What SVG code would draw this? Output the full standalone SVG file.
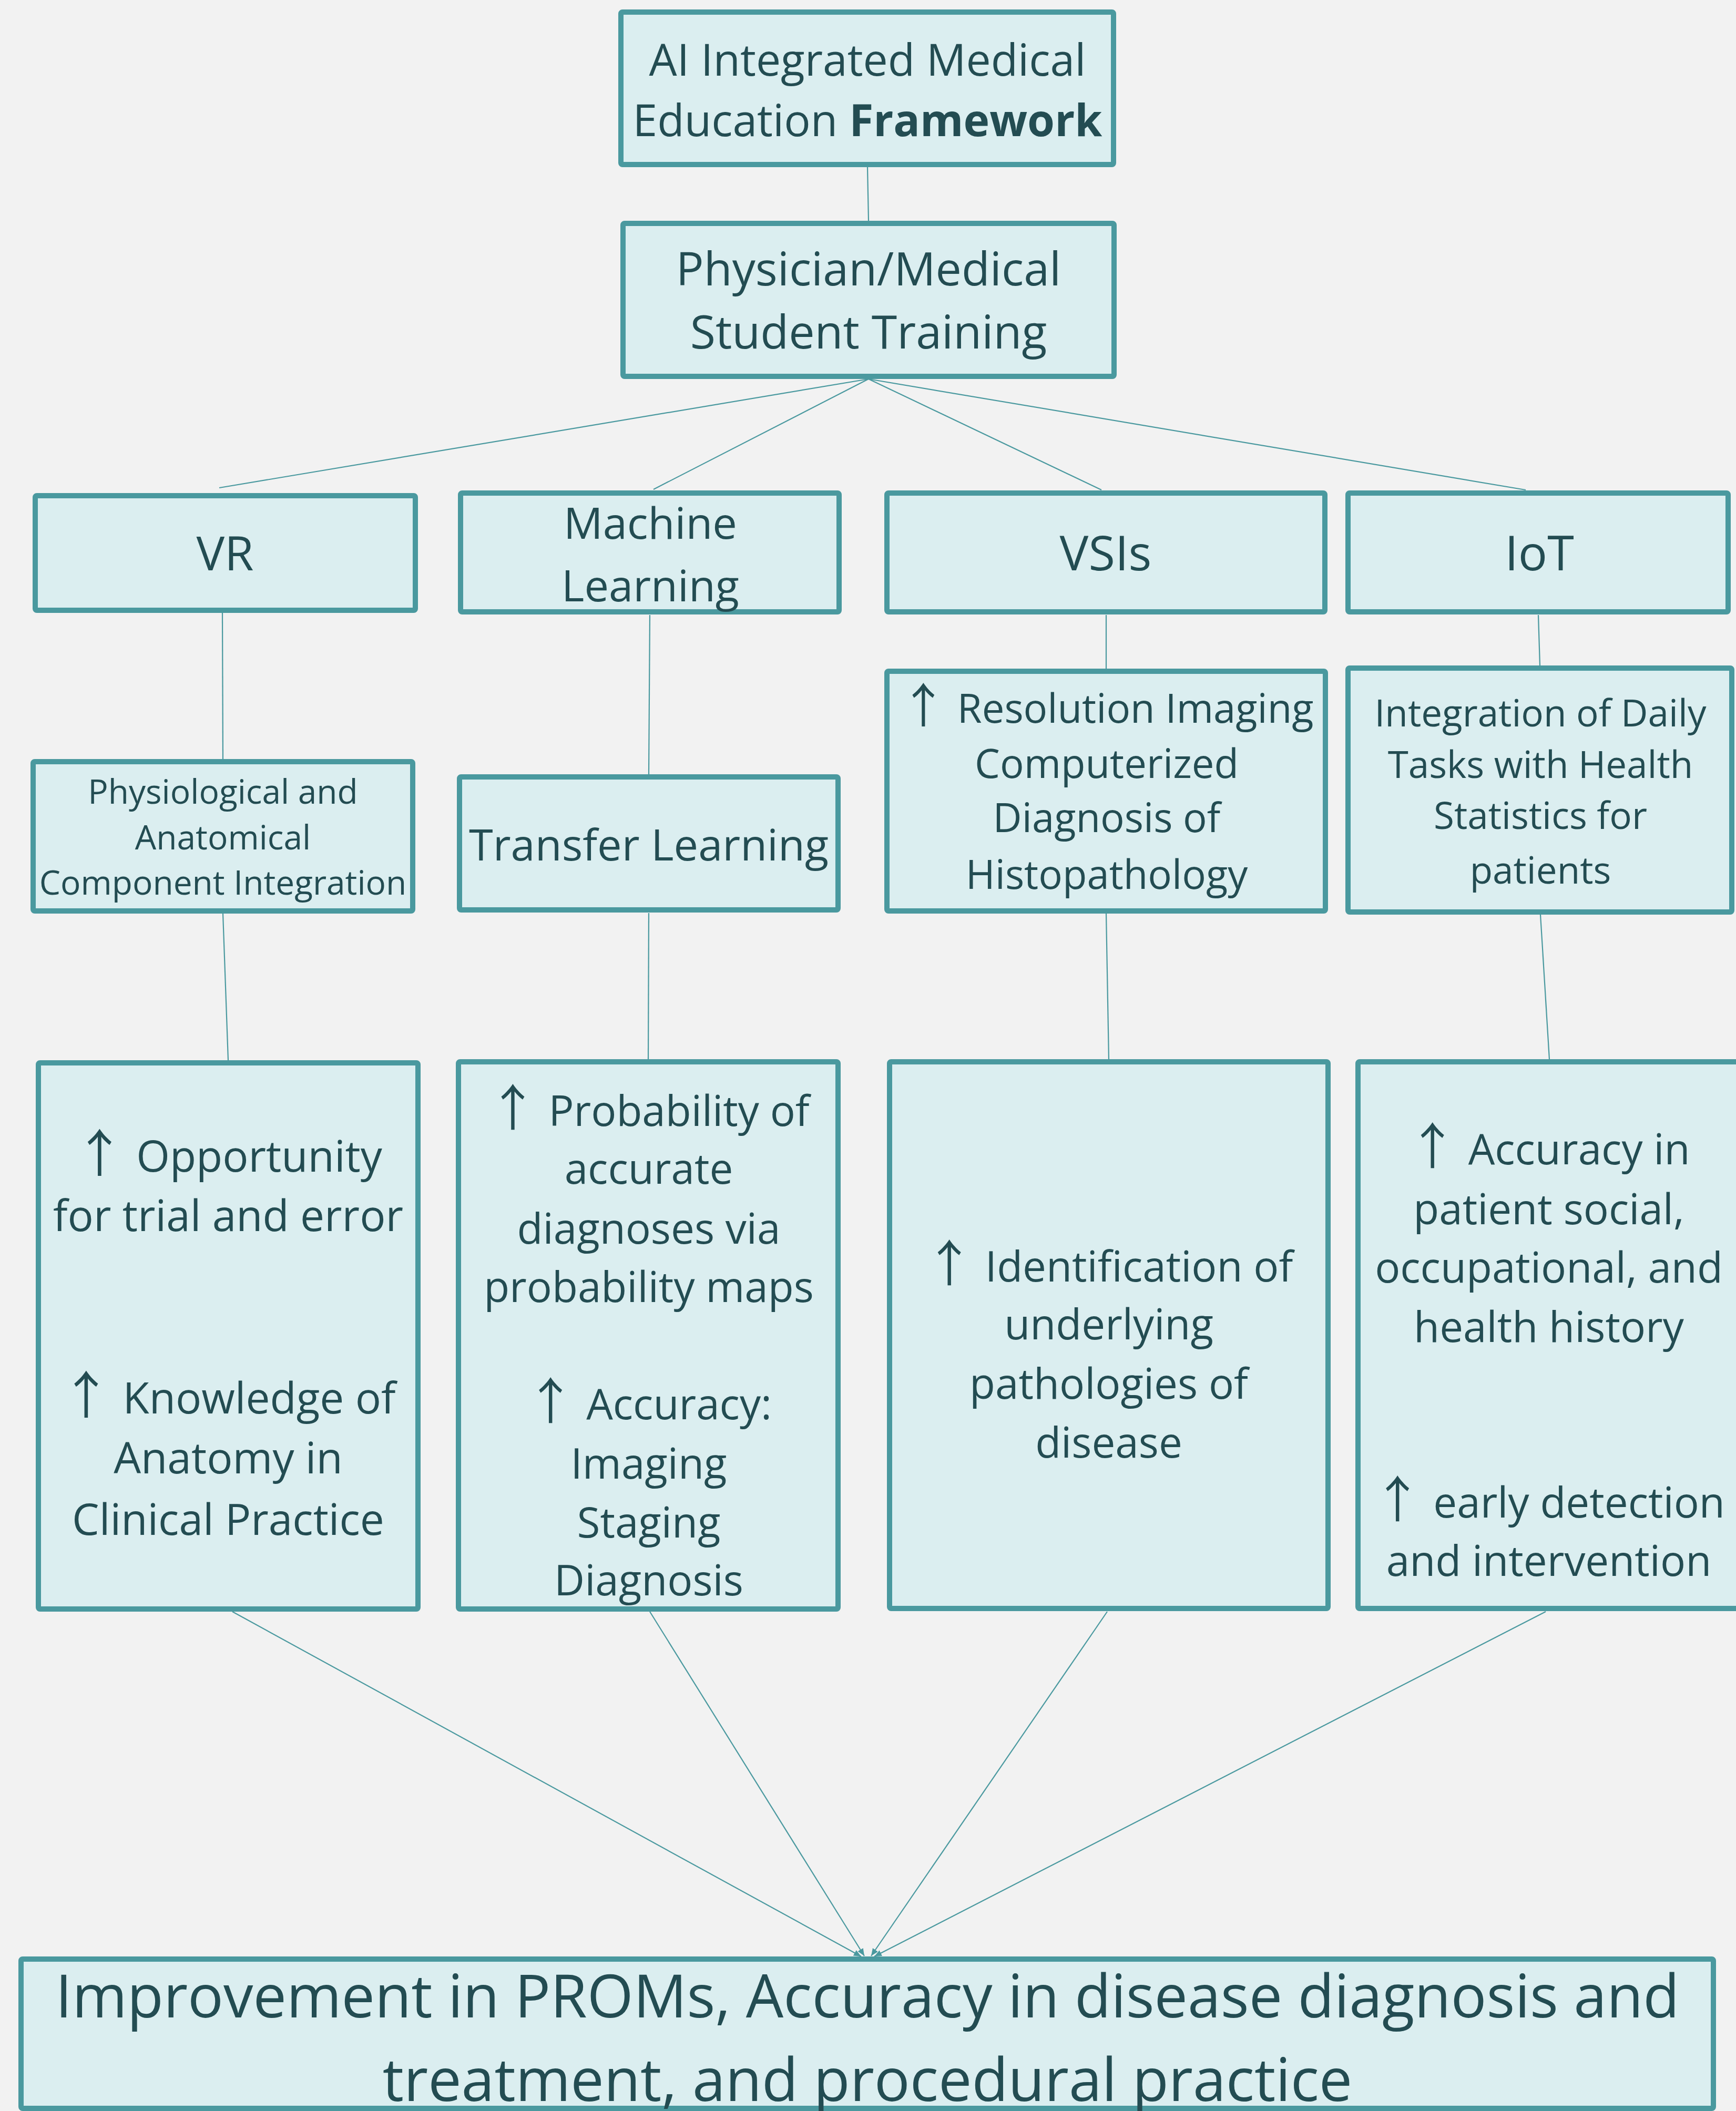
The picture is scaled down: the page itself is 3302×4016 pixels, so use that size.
<svg xmlns="http://www.w3.org/2000/svg" width="3302" height="4016" viewBox="0 0 3302 4016">
<defs>
<style>
.box{fill:#DBEEF0;stroke:#4A999F;stroke-width:10;stroke-linejoin:round}
.t{font-family:"Open Sans","Noto Sans","DejaVu Sans",sans-serif;fill:#234C52;text-anchor:middle}
.a{font-family:"Noto Sans CJK SC","Noto Sans CJK JP",sans-serif;font-size:1.18em}
.c{stroke:#4A999F;stroke-width:2.2;fill:none}
</style>
<marker id="ah" markerUnits="userSpaceOnUse" markerWidth="16" markerHeight="14" refX="14" refY="6" orient="auto">
<path d="M0,0 L14,6 L0,12 z" fill="#4A999F"/>
</marker>
</defs>
<rect x="0" y="0" width="3302" height="4016" fill="#F2F2F2"/>
<g id="connectors">
<line class="c" x1="1650" y1="318" x2="1652" y2="420"/>
<line class="c" x1="1652" y1="721" x2="417" y2="928"/>
<line class="c" x1="1652" y1="721" x2="1243" y2="931"/>
<line class="c" x1="1652" y1="721" x2="2095" y2="932"/>
<line class="c" x1="1652" y1="721" x2="2902" y2="932"/>
<line class="c" x1="423" y1="1166" x2="424" y2="1444"/>
<line class="c" x1="1236" y1="1170" x2="1234" y2="1473"/>
<line class="c" x1="2104" y1="1170" x2="2104" y2="1272"/>
<line class="c" x1="2926" y1="1170" x2="2929" y2="1266"/>
<line class="c" x1="424" y1="1738" x2="434" y2="2017"/>
<line class="c" x1="1234" y1="1737" x2="1233" y2="2015"/>
<line class="c" x1="2104" y1="1738" x2="2109" y2="2015"/>
<line class="c" x1="2930" y1="1740" x2="2947" y2="2015"/>
<line class="c" x1="442" y1="3066" x2="1638" y2="3722" marker-end="url(#ah)"/>
<line class="c" x1="1236" y1="3066" x2="1644" y2="3721" marker-end="url(#ah)"/>
<line class="c" x1="2106" y1="3066" x2="1657" y2="3721" marker-end="url(#ah)"/>
<line class="c" x1="2940" y1="3066" x2="1663" y2="3722" marker-end="url(#ah)"/>
</g>
<g id="n-framework">
<rect class="box" x="1181" y="23" width="937" height="290" rx="3"/>
<text class="t" font-size="84"><tspan x="1650" y="144">AI Integrated Medical</tspan><tspan x="1650" y="259">Education <tspan font-weight="bold">Framework</tspan></tspan></text>
</g>
<g id="n-training">
<rect class="box" x="1185" y="425" width="934" height="291" rx="3"/>
<text class="t" font-size="88"><tspan x="1652" y="543">Physician/Medical</tspan><tspan x="1652" y="663">Student Training</tspan></text>
</g>
<g id="n-vr">
<rect class="box" x="67" y="943" width="723" height="218" rx="3"/>
<text class="t" font-size="90" x="428" y="1085">VR</text>
</g>
<g id="n-ml">
<rect class="box" x="876" y="938" width="720" height="226" rx="3"/>
<text class="t" font-size="83"><tspan x="1237" y="1025">Machine</tspan><tspan x="1237" y="1144">Learning</tspan></text>
</g>
<g id="n-vsi">
<rect class="box" x="1687" y="938" width="833" height="226" rx="3"/>
<text class="t" font-size="92" x="2103" y="1085">VSIs</text>
</g>
<g id="n-iot">
<rect class="box" x="2564" y="938" width="723" height="226" rx="3"/>
<text class="t" font-size="92" x="2928" y="1085">IoT</text>
</g>
<g id="n-physio">
<rect class="box" x="63" y="1449" width="722" height="284" rx="3"/>
<text class="t" font-size="64"><tspan x="424" y="1529">Physiological and</tspan><tspan x="424" y="1616">Anatomical</tspan><tspan x="424" y="1702">Component Integration</tspan></text>
</g>
<g id="n-transfer">
<rect class="box" x="874" y="1478" width="720" height="253" rx="3"/>
<text class="t" font-size="83" x="1234" y="1637">Transfer Learning</text>
</g>
<g id="n-resolution">
<rect class="box" x="1687" y="1277" width="834" height="456" rx="3"/>
<text class="t" font-size="76"><tspan x="2105" y="1375"><tspan class="a">↑</tspan> Resolution Imaging</tspan><tspan x="2105" y="1480">Computerized</tspan><tspan x="2105" y="1583">Diagnosis of</tspan><tspan x="2105" y="1691">Histopathology</tspan></text>
</g>
<g id="n-integration">
<rect class="box" x="2564" y="1271" width="730" height="464" rx="3"/>
<text class="t" font-size="71"><tspan x="2930" y="1382">Integration of Daily</tspan><tspan x="2930" y="1480">Tasks with Health</tspan><tspan x="2930" y="1577">Statistics for</tspan><tspan x="2930" y="1681">patients</tspan></text>
</g>
<g id="n-opportunity">
<rect class="box" x="73" y="2022" width="722" height="1039" rx="3"/>
<text class="t" font-size="82"><tspan x="434" y="2229"><tspan class="a">↑</tspan> Opportunity</tspan><tspan x="434" y="2342">for trial and error</tspan><tspan x="434" y="2689"><tspan class="a">↑</tspan> Knowledge of</tspan><tspan x="434" y="2803">Anatomy in</tspan><tspan x="434" y="2920">Clinical Practice</tspan></text>
</g>
<g id="n-probability">
<rect class="box" x="872" y="2020" width="722" height="1041" rx="3"/>
<text class="t" font-size="80"><tspan x="1234" y="2142"><tspan class="a">↑</tspan> Probability of</tspan><tspan x="1234" y="2252">accurate</tspan><tspan x="1234" y="2366">diagnoses via</tspan><tspan x="1234" y="2477">probability maps</tspan><tspan x="1234" y="2700"><tspan class="a">↑</tspan> Accuracy:</tspan><tspan x="1234" y="2813">Imaging</tspan><tspan x="1234" y="2925">Staging</tspan><tspan x="1234" y="3035">Diagnosis</tspan></text>
</g>
<g id="n-identification">
<rect class="box" x="1692" y="2020" width="834" height="1040" rx="3"/>
<text class="t" font-size="80"><tspan x="2109" y="2438"><tspan class="a">↑</tspan> Identification of</tspan><tspan x="2109" y="2548">underlying</tspan><tspan x="2109" y="2661">pathologies of</tspan><tspan x="2109" y="2773">disease</tspan></text>
</g>
<g id="n-accuracy">
<rect class="box" x="2583" y="2020" width="728" height="1040" rx="3"/>
<text class="t" font-size="80"><tspan x="2946" y="2215"><tspan class="a">↑</tspan> Accuracy in</tspan><tspan x="2946" y="2329">patient social,</tspan><tspan x="2946" y="2440">occupational, and</tspan><tspan x="2946" y="2553">health history</tspan><tspan x="2946" y="2887"><tspan class="a">↑</tspan> early detection</tspan><tspan x="2946" y="2998">and intervention</tspan></text>
</g>
<g id="n-outcome">
<rect class="box" x="40" y="3727" width="3219" height="284" rx="3"/>
<text class="t" font-size="113"><tspan x="1650" y="3838">Improvement in PROMs, Accuracy in disease diagnosis and</tspan><tspan x="1650" y="3997">treatment, and procedural practice</tspan></text>
</g>
</svg>
